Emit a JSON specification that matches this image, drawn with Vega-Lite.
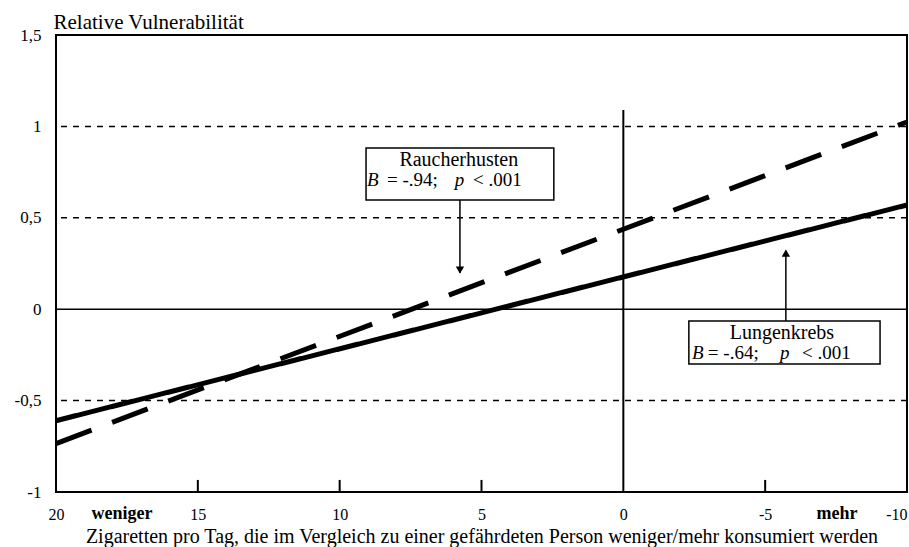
{
  "$schema": "https://vega.github.io/schema/vega-lite/v6.json",
  "width": 851,
  "height": 457,
  "autosize": "none",
  "padding": {"left": 56, "top": 35, "right": 2, "bottom": 55},
  "background": "white",
  "config": {
    "view": {"stroke": "#000", "strokeWidth": 2},
    "font": "Liberation Serif",
    "text": {"font": "Liberation Serif", "color": "#000"}
  },
  "layer": [
    {
      "data": {"values": [
        {"x": 20, "y": -0.61, "s": "Lungenkrebs"},
        {"x": -10, "y": 0.57, "s": "Lungenkrebs"},
        {"x": 20, "y": -0.735, "s": "Raucherhusten"},
        {"x": -10, "y": 1.024, "s": "Raucherhusten"}
      ]},
      "mark": {"type": "line", "strokeWidth": 5, "color": "#000", "strokeCap": "butt"},
      "encoding": {
        "x": {
          "field": "x", "type": "quantitative",
          "scale": {"domain": [20, -10], "nice": false, "zero": false},
          "axis": {
            "values": [20, 15, 10, 5, 0, -5, -10],
            "labelExpr": "toString(datum.value)",
            "domain": false, "grid": false, "ticks": false, "tickSize": 0,
            "labelAlign": {"condition": {"test": "datum.value == -10", "value": "right"}, "value": "center"},
            "labelBaseline": "alphabetic", "labelPadding": 27, "labelFlush": false,
            "labelFont": "Liberation Serif", "labelFontSize": 16, "labelColor": "#000",
            "title": "Zigaretten pro Tag, die im Vergleich zu einer gefährdeten Person weniger/mehr konsumiert werden",
            "titleFont": "Liberation Serif", "titleFontSize": 20, "titleFontWeight": "normal", "titleColor": "#000",
            "titleBaseline": "alphabetic", "titleY": 50
          }
        },
        "y": {
          "field": "y", "type": "quantitative",
          "scale": {"domain": [-1, 1.5], "nice": false, "zero": false},
          "axis": {
            "values": [1.5, 1, 0.5, 0, -0.5, -1],
            "labelExpr": "replace(toString(datum.value), '.', ',')",
            "domain": false, "grid": false, "ticks": false, "tickSize": 0,
            "labelAlign": "right", "labelBaseline": "middle", "labelPadding": 15,
            "labelFont": "Liberation Serif", "labelFontSize": 17, "labelColor": "#000",
            "title": "Relative Vulnerabilität",
            "titleFont": "Liberation Serif", "titleFontSize": 21, "titleFontWeight": "normal", "titleColor": "#000",
            "titleAngle": 0, "titleAlign": "left", "titleBaseline": "alphabetic",
            "titleX": -3, "titleY": -7
          }
        },
        "detail": {"field": "s"},
        "strokeDash": {"field": "s", "type": "nominal", "legend": null,
          "scale": {"domain": ["Lungenkrebs", "Raucherhusten"], "range": [[1, 0], [38, 22]]}}
      }
    },
    {
      "data": {"values": [{"y": 1}, {"y": 0.5}, {"y": -0.5}]},
      "mark": {"type": "rule", "strokeDash": [6, 6], "strokeWidth": 1.5, "color": "#000"},
      "encoding": {"y": {"field": "y", "type": "quantitative"}}
    },
    {
      "data": {"values": [{"y": 0}]},
      "mark": {"type": "rule", "strokeWidth": 1.5, "color": "#000"},
      "encoding": {"y": {"field": "y", "type": "quantitative"}}
    },
    {
      "data": {"values": [{"x": 15, "y": -1, "y2": -0.934}, {"x": 10, "y": -1, "y2": -0.934}, {"x": 5, "y": -1, "y2": -0.934}, {"x": -5, "y": -1, "y2": -0.934}]},
      "mark": {"type": "rule", "strokeWidth": 2, "color": "#000"},
      "encoding": {
        "x": {"field": "x", "type": "quantitative"},
        "y": {"field": "y", "type": "quantitative"},
        "y2": {"field": "y2"}
      }
    },
    {
      "data": {"values": [{"x": 0, "y": 1.09, "y2": -1}]},
      "mark": {"type": "rule", "strokeWidth": 2, "color": "#000"},
      "encoding": {
        "x": {"field": "x", "type": "quantitative"},
        "y": {"field": "y", "type": "quantitative"},
        "y2": {"field": "y2"}
      }
    },
    {
      "data": {"values": [{"x": 5.76, "y": 0.597, "y2": 0.2}, {"x": -5.73, "y": -0.065, "y2": 0.32}]},
      "mark": {"type": "rule", "strokeWidth": 1.5, "color": "#000"},
      "encoding": {
        "x": {"field": "x", "type": "quantitative"},
        "y": {"field": "y", "type": "quantitative"},
        "y2": {"field": "y2"}
      }
    },
    {
      "data": {"values": [{"x": 5.76, "y": 0.214, "d": "down"}, {"x": -5.73, "y": 0.307, "d": "up"}]},
      "mark": {"type": "point", "filled": true, "color": "#000", "size": 70, "opacity": 1},
      "encoding": {
        "x": {"field": "x", "type": "quantitative"},
        "y": {"field": "y", "type": "quantitative"},
        "shape": {"field": "d", "type": "nominal", "legend": null,
          "scale": {"domain": ["down", "up"], "range": ["triangle-down", "triangle-up"]}}
      }
    },
    {
      "data": {"values": [{"x": 9.07, "x2": 2.45, "y": 0.882, "y2": 0.597}, {"x": -2.31, "x2": -9.05, "y": -0.065, "y2": -0.3}]},
      "mark": {"type": "rect", "fill": "white", "stroke": "#000", "strokeWidth": 1.5},
      "encoding": {
        "x": {"field": "x", "type": "quantitative"},
        "x2": {"field": "x2"},
        "y": {"field": "y", "type": "quantitative"},
        "y2": {"field": "y2"}
      }
    },
    {
      "data": {"values": [{"x": 5.8, "y": 0.7834, "t": "Raucherhusten"}, {"x": -5.59, "y": -0.163, "t": "Lungenkrebs"}]},
      "mark": {"type": "text", "fontSize": 20, "align": "center", "baseline": "alphabetic", "color": "#000"},
      "encoding": {
        "x": {"field": "x", "type": "quantitative"},
        "y": {"field": "y", "type": "quantitative"},
        "text": {"field": "t"}
      }
    },
    {
      "data": {"values": [
        {"x": 8.33, "y": 0.674, "t": "= -.94;"},
        {"x": 5.30, "y": 0.674, "t": "< .001"},
        {"x": -2.98, "y": -0.275, "t": "= -.64;"},
        {"x": -6.30, "y": -0.275, "t": "< .001"}
      ]},
      "mark": {"type": "text", "fontSize": 19, "align": "left", "baseline": "alphabetic", "color": "#000"},
      "encoding": {
        "x": {"field": "x", "type": "quantitative"},
        "y": {"field": "y", "type": "quantitative"},
        "text": {"field": "t"}
      }
    },
    {
      "data": {"values": [
        {"x": 9.04, "y": 0.674, "t": "B"},
        {"x": 5.94, "y": 0.674, "t": "p"},
        {"x": -2.42, "y": -0.275, "t": "B"},
        {"x": -5.52, "y": -0.275, "t": "p"}
      ]},
      "mark": {"type": "text", "fontSize": 19, "fontStyle": "italic", "align": "left", "baseline": "alphabetic", "color": "#000"},
      "encoding": {
        "x": {"field": "x", "type": "quantitative"},
        "y": {"field": "y", "type": "quantitative"},
        "text": {"field": "t"}
      }
    },
    {
      "data": {"values": [{"x": 17.67, "y": -1.148, "t": "weniger"}, {"x": -7.53, "y": -1.148, "t": "mehr"}]},
      "mark": {"type": "text", "fontSize": 18, "fontWeight": "bold", "align": "center", "baseline": "alphabetic", "color": "#000"},
      "encoding": {
        "x": {"field": "x", "type": "quantitative"},
        "y": {"field": "y", "type": "quantitative"},
        "text": {"field": "t"}
      }
    }
  ]
}
